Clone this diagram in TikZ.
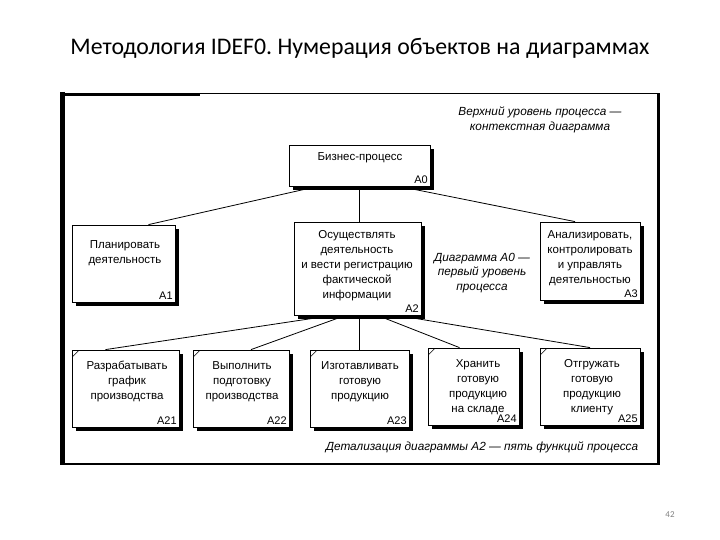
\documentclass[tikz,border=0pt]{standalone}
\usepackage{fontspec}
\setmainfont{Liberation Sans}
\newfontfamily\titlefont{Carlito}
\usetikzlibrary{shadows}
\frenchspacing
\begin{document}
\begin{tikzpicture}[x=1pt,y=-1pt,
 box/.style={draw=black, line width=0.8pt, fill=white, inner sep=0pt,
   drop shadow={shadow xshift=4pt, shadow yshift=-4pt, fill=black, opacity=1}},
 txt/.style={font=\fontsize{11.5}{15}\selectfont, align=center, inner sep=0pt},
 lab/.style={font=\fontsize{11}{12}\selectfont, inner sep=2.5pt, anchor=south east},
 note/.style={font=\fontsize{11.8}{14.5}\selectfont\itshape, align=center, inner sep=0pt},
 conn/.style={line width=0.8pt},
 tick/.style={line width=0.6pt}]
\useasboundingbox (0,0) rectangle (720,540);

% title
\node[font=\titlefont\fontsize{23.8}{26}\selectfont, inner sep=0pt] (title) at (360,48) {Методология IDEF0. Нумерация объектов на диаграммах};

% frame
\draw[line width=1pt] (62,94) rectangle (659,464);
\draw[line width=4.5pt] (62.5,92) -- (62.5,465);
\draw[line width=3.5pt] (658.5,94) -- (658.5,464);
\draw[line width=3pt] (60,94.5) -- (200,94.5);
\draw[line width=1.6pt] (62,464) -- (659,464);

% notes
\node[note] (n0) at (540,120) {Верхний уровень процесса —\\контекстная диаграмма};
\node[note] (n1) at (482,273) {Диаграмма А0 —\\первый уровень\\процесса};
\node[note] (n2) at (482,447) {Детализация диаграммы А2 — пять функций процесса};

% boxes
\node[box, minimum width=141, minimum height=41] (A0) at (359.5,165.5) {};
\node[box, minimum width=103, minimum height=77] (A1) at (123.5,263.5) {};
\node[box, minimum width=127, minimum height=93] (A2) at (357.5,268.5) {};
\node[box, minimum width=100, minimum height=78] (A3) at (590,261) {};
\node[box, minimum width=107, minimum height=77] (A21) at (125.5,388.5) {};
\node[box, minimum width=96, minimum height=77] (A22) at (241,388.5) {};
\node[box, minimum width=99, minimum height=77] (A23) at (359.5,388.5) {};
\node[box, minimum width=91, minimum height=77] (A24) at (473.5,386.5) {};
\node[box, minimum width=100, minimum height=77] (A25) at (590,386.5) {};

% texts
\node[txt] (A0t) at (360,158) {Бизнес-процесс};
\node[txt] (A1t) at (125,253.5) {Планировать\\деятельность};
\node[txt] (A2t) at (357,266) {Осуществлять\\деятельность\\и вести регистрацию\\фактической\\информации};
\node[txt] (A3t) at (590,258.5) {Анализировать,\\контролировать\\и управлять\\деятельностью};
\node[txt] (A21t) at (127,381.5) {Разрабатывать\\график\\производства};
\node[txt] (A22t) at (242,381.5) {Выполнить\\подготовку\\производства};
\node[txt] (A23t) at (360,381.5) {Изготавливать\\готовую\\продукцию};
\node[txt] (A24t) at (478,387) {Хранить\\готовую\\продукцию\\на складе};
\node[txt] (A25t) at (592,387) {Отгружать\\готовую\\продукцию\\клиенту};

% labels
\node[lab] (A0l) at (A0.south east) {A0};
\node[lab] (A1l) at (A1.south east) {A1};
\node[lab] (A2l) at (A2.south east) {A2};
\node[lab] (A3l) at (A3.south east) {A3};
\node[lab] (A21l) at (A21.south east) {A21};
\node[lab] (A22l) at (A22.south east) {A22};
\node[lab] (A23l) at (A23.south east) {A23};
\node[lab] (A24l) at (A24.south east) {A24};
\node[lab] (A25l) at (A25.south east) {A25};

% connectors level 1
\draw[conn] ([xshift=-42pt]A0.south) -- ([xshift=25pt]A1.north);
\draw[conn] (A0.south) -- (A0.south |- A2.north);
\draw[conn] ([xshift=40pt]A0.south) -- ([xshift=-15pt]A3.north);

% connectors level 2
\draw[conn] ([xshift=-25pt]A2.south) -- ([xshift=-20pt]A21.north);
\draw[conn] ([xshift=-12pt]A2.south) -- ([xshift=10pt]A22.north);
\draw[conn] (A23.north |- A2.south) -- (A23.north);
\draw[conn] ([xshift=20pt]A2.south) -- ([xshift=-14pt]A24.north);
\draw[conn] ([xshift=40pt]A2.south) -- (A25.north);

% corner ticks
\foreach \b in {A21,A22,A23,A24,A25}
  \draw[tick] ([xshift=1pt,yshift=-7pt]\b.north west) -- ([xshift=7pt,yshift=-1pt]\b.north west);

% page number
\node[font=\titlefont\fontsize{9}{10}\selectfont, text=gray, inner sep=0pt] (pg) at (670,515) {42};
\end{tikzpicture}
\end{document}
